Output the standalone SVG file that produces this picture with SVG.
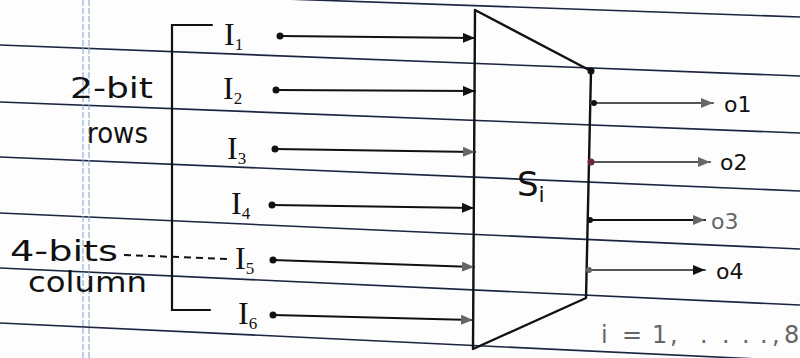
<svg xmlns="http://www.w3.org/2000/svg" width="800" height="358" viewBox="0 0 800 358">
<defs>
<style>
.rule{stroke:#1b2540;stroke-width:1.6;fill:none}
.margin{stroke:#8fb0d6;stroke-width:1.2;fill:none;stroke-dasharray:6 2}
.ln{stroke:#111;stroke-width:2.2;fill:none;stroke-linecap:round}
.lg{stroke:#555;stroke-width:2.2;fill:none;stroke-linecap:round}
.dash{stroke:#111;stroke-width:2;fill:none;stroke-dasharray:7 5}
.t{font-family:"DejaVu Sans","Liberation Sans",sans-serif;fill:#111}
.tg{font-family:"DejaVu Sans","Liberation Sans",sans-serif;fill:#666}
.in{font-family:"Liberation Serif","DejaVu Serif",serif;font-size:32px;fill:#111}
.sub{font-size:17px}
.dot{fill:#111}
</style>
<marker id="ah" viewBox="0 0 12 10" refX="12" refY="5" markerWidth="12" markerHeight="10" markerUnits="userSpaceOnUse" orient="auto">
<path d="M0,0 L12,5 L0,10 Z" fill="#111"/>
</marker>
<marker id="ahg" viewBox="0 0 12 10" refX="12" refY="5" markerWidth="12" markerHeight="10" markerUnits="userSpaceOnUse" orient="auto">
<path d="M0,0 L12,5 L0,10 Z" fill="#666"/>
</marker>
</defs>
<rect width="800" height="358" fill="#fdfdfd"/>
<g id="paper">
<line class="rule" x1="0" y1="-11" x2="800" y2="17"/>
<line class="rule" x1="0" y1="45" x2="800" y2="76"/>
<line class="rule" x1="0" y1="102" x2="800" y2="133"/>
<line class="rule" x1="0" y1="157" x2="800" y2="191"/>
<line class="rule" x1="0" y1="213" x2="800" y2="249"/>
<line class="rule" x1="0" y1="268" x2="800" y2="305"/>
<line class="rule" x1="0" y1="323" x2="800" y2="361"/>
<line class="margin" x1="83" y1="0" x2="83" y2="358"/>
<line class="margin" x1="89" y1="0" x2="89" y2="358"/>
</g>
<g id="sbox">
<polygon points="475,10 591,71 586,298 473,349" fill="none" stroke="#111" stroke-width="2.4" stroke-linejoin="round"/>
<text class="t" x="517" y="196" font-size="34">S<tspan font-size="22" dy="6">i</tspan></text>
</g>
<g id="bracket">
<polyline class="ln" points="212,25 172,25 172,310 210,310"/>
<text class="t" x="70" y="98" font-size="28" textLength="83" lengthAdjust="spacingAndGlyphs">2-bit</text>
<text class="t" x="87" y="143" font-size="28" textLength="61" lengthAdjust="spacingAndGlyphs">rows</text>
<text class="t" x="10" y="261" font-size="28" textLength="108" lengthAdjust="spacingAndGlyphs">4-bits</text>
<text class="t" x="28" y="292" font-size="28" textLength="119" lengthAdjust="spacingAndGlyphs">column</text>
</g>
<g id="inputs">
<g id="I1"><text class="in" x="224" y="45">I<tspan class="sub" dy="5">1</tspan></text></g>
<g id="I2"><text class="in" x="223" y="99">I<tspan class="sub" dy="5">2</tspan></text></g>
<g id="I3"><text class="in" x="227" y="159">I<tspan class="sub" dy="5">3</tspan></text></g>
<g id="I4"><text class="in" x="231" y="214">I<tspan class="sub" dy="5">4</tspan></text></g>
<g id="I5"><text class="in" x="235" y="269">I<tspan class="sub" dy="5">5</tspan></text></g>
<g id="I6"><text class="in" x="238" y="324">I<tspan class="sub" dy="5">6</tspan></text></g>
</g>
<g id="outputs">
<g id="o1"><text class="t" x="724" y="112" font-size="22">o1</text></g>
<g id="o2"><text class="t" x="720" y="170" font-size="22">o2</text></g>
<g id="o3"><text class="tg" x="711" y="229" font-size="22">o3</text></g>
<g id="o4"><text class="t" x="716" y="279" font-size="22">o4</text></g>
<text class="tg" font-size="24" y="343"><tspan x="601">i</tspan><tspan x="622">=</tspan><tspan x="652">1</tspan><tspan x="670">,</tspan><tspan x="700">.</tspan><tspan x="722">.</tspan><tspan x="742">.</tspan><tspan x="760">.</tspan><tspan x="772">,</tspan><tspan x="784">8</tspan></text>
</g>
<g id="connectors">
<line class="ln" x1="280" y1="36" x2="475" y2="38" marker-end="url(#ah)"/>
<line class="ln" x1="276" y1="90" x2="475" y2="91" marker-end="url(#ah)"/>
<line class="ln" x1="275" y1="149" x2="475" y2="152" marker-end="url(#ahg)"/>
<line class="ln" x1="272" y1="205" x2="474" y2="208" marker-end="url(#ah)"/>
<line class="ln" x1="273" y1="260" x2="474" y2="267" marker-end="url(#ahg)"/>
<line class="ln" x1="273" y1="315" x2="473" y2="320" marker-end="url(#ahg)"/>
<circle class="dot" cx="280" cy="36" r="3.5"/>
<circle class="dot" cx="276" cy="90" r="3.5"/>
<circle class="dot" cx="275" cy="149" r="3.5"/>
<circle class="dot" cx="272" cy="205" r="3.5"/>
<circle class="dot" cx="273" cy="260" r="3.5"/>
<circle class="dot" cx="273" cy="315" r="3.5"/>
<circle class="dot" cx="591" cy="71" r="3.5"/>
<line class="dash" x1="124" y1="255" x2="229" y2="259"/>
<line class="lg" x1="591" y1="103" x2="713" y2="103" marker-end="url(#ahg)"/>
<line class="lg" x1="590" y1="162" x2="710" y2="162" marker-end="url(#ahg)"/>
<line class="ln" x1="589" y1="220" x2="705" y2="220" marker-end="url(#ahg)"/>
<line class="lg" x1="588" y1="270" x2="705" y2="270" marker-end="url(#ah)"/>
<circle class="dot" cx="594" cy="103" r="3"/>
<circle cx="591" cy="162" r="3.5" fill="#6a2a3a"/>
<circle class="dot" cx="590" cy="220" r="3"/>
<circle cx="589" cy="270" r="3" fill="#666"/>
</g>
</svg>
